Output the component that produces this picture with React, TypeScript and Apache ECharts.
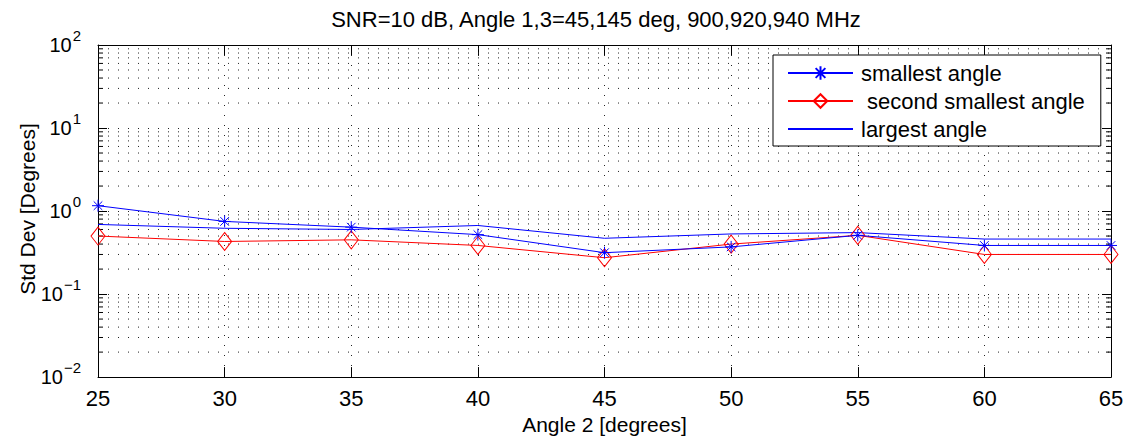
import { useEffect, useRef } from 'react';
import * as echarts from 'echarts';

const angle2 = [25, 30, 35, 40, 45, 50, 55, 60, 65];
const smallest = [1.16, 0.75, 0.64, 0.52, 0.315, 0.37, 0.51, 0.385, 0.385];
const secondSmallest = [0.5, 0.43, 0.45, 0.385, 0.274, 0.4, 0.51, 0.3, 0.3];
const largest = [0.69, 0.62, 0.6, 0.67, 0.47, 0.53, 0.55, 0.46, 0.46];

const seriesNames = ['smallest angle', ' second smallest angle', 'largest angle'];
const titleText = 'SNR=10 dB, Angle 1,3=45,145 deg, 900,920,940 MHz';
const xName = 'Angle 2 [degrees]';
const yName = 'Std Dev [Degrees]';
const decades = [0.01, 0.1, 1, 10];
const minorSteps = [2, 3, 4, 5, 6, 7, 8, 9];

const FONT = '"Liberation Sans", Arial, Helvetica, sans-serif';
const STAR = 'path://M0,-6L0,6M-6,0L6,0M-4.3,-4.3L4.3,4.3M-4.3,4.3L4.3,-4.3';

export default function App() {
  const ref = useRef<HTMLDivElement>(null);
  useEffect(() => {
    if (!ref.current) return;
    const chart = echarts.init(ref.current, null, { renderer: 'svg' });
    const minorVals: number[] = [];
    decades.forEach((d) => minorSteps.forEach((m) => minorVals.push(+(d * m).toPrecision(3))));

    const zip = (ys: number[]) => angle2.map((x, i) => [x, ys[i]]);
    const sup = (v: number) => {
      const e = Math.round(Math.log10(v));
      return `{b|10}{s|${e < 0 ? '\u2212' + -e : e}}`;
    };

    chart.setOption({
      animation: false,
      backgroundColor: '#ffffff',
      textStyle: { fontFamily: FONT },
      graphic: [
        {
          type: 'text',
          x: 596,
          y: 19,
          style: {
            text: titleText,
            font: `22px ${FONT}`,
            fill: '#000',
            textAlign: 'center',
            textVerticalAlign: 'middle',
          },
        },
        {
          type: 'text',
          x: 27,
          y: 209,
          rotation: Math.PI / 2,
          style: {
            text: yName,
            font: `21px ${FONT}`,
            fill: '#000',
            textAlign: 'center',
            textVerticalAlign: 'middle',
          },
        },
      ],
      grid: { left: 98, right: 16, top: 45, bottom: 62, containLabel: false },
      legend: {
        data: seriesNames,
        orient: 'vertical',
        left: 773,
        top: 55,
        padding: [7, 16, 6, 14],
        itemWidth: 65,
        itemHeight: 17,
        itemGap: 6,
        backgroundColor: '#ffffff',
        borderColor: '#000',
        borderWidth: 1,
        borderRadius: 0,
        textStyle: { fontSize: 22, color: '#000', fontFamily: FONT, padding: [0, 0, 0, 3] },
      },
      xAxis: [
        {
          type: 'value',
          min: 25,
          max: 65,
          interval: 5,
          name: xName,
          nameLocation: 'middle',
          nameGap: 34,
          nameTextStyle: { fontSize: 21, color: '#000', fontFamily: FONT },
          axisLine: { show: true, lineStyle: { color: '#000', width: 1 } },
          axisTick: { show: true, inside: true, length: 10, lineStyle: { color: '#000' } },
          axisLabel: { fontSize: 22, color: '#000', margin: 10, fontFamily: FONT },
          splitLine: { show: true, lineStyle: { color: '#222', width: 1, type: [1, 9] } },
        },
        {
          type: 'value',
          position: 'top',
          min: 25,
          max: 65,
          interval: 5,
          axisLine: { show: true, lineStyle: { color: '#000', width: 1 } },
          axisTick: { show: true, inside: true, length: 10, lineStyle: { color: '#000' } },
          axisLabel: { show: false },
          splitLine: { show: false },
        },
      ],
      yAxis: [
        {
          type: 'log',
          logBase: 10,
          min: 0.01,
          max: 100,
          splitNumber: 4,
          axisLine: { show: true, lineStyle: { color: '#000', width: 1 } },
          axisTick: { show: true, inside: true, length: 9, lineStyle: { color: '#000' } },
          axisLabel: {
            margin: 17,
            formatter: sup,
            rich: {
              b: { fontSize: 20, color: '#000', fontFamily: FONT },
              s: { fontSize: 15, color: '#000', fontFamily: FONT, padding: [0, 0, 20, 1] },
            },
          },
          splitLine: { show: true, lineStyle: { color: '#222', width: 1, type: [1, 9] } },
        },
        {
          type: 'log',
          logBase: 10,
          min: 0.01,
          max: 100,
          splitNumber: 4,
          position: 'right',
          axisLine: { show: true, lineStyle: { color: '#000', width: 1 } },
          axisTick: { show: true, inside: true, length: 9, lineStyle: { color: '#000' } },
          axisLabel: { show: false },
          splitLine: { show: false },
        },
      ],
      series: [
        {
          name: 'minor grid',
          type: 'custom',
          silent: true,
          z: 1,
          xAxisIndex: 0,
          yAxisIndex: 0,
          data: minorVals.map((v) => [25, v]),
          renderItem: (params: any, api: any) => {
            const cs = params.coordSys;
            const y = api.coord([25, api.value(1)])[1];
            const x0 = cs.x;
            const x1 = cs.x + cs.width;
            return {
              type: 'group',
              children: [
                {
                  type: 'line',
                  shape: { x1: x0, y1: y, x2: x1, y2: y },
                  style: { stroke: '#222', lineWidth: 1, lineDash: [1, 9] },
                },
                {
                  type: 'line',
                  shape: { x1: x0, y1: y, x2: x0 + 5, y2: y },
                  style: { stroke: '#000', lineWidth: 1 },
                },
                {
                  type: 'line',
                  shape: { x1: x1 - 5, y1: y, x2: x1, y2: y },
                  style: { stroke: '#000', lineWidth: 1 },
                },
              ],
            };
          },
        },
        {
          name: seriesNames[0],
          type: 'line',
          z: 4,
          data: zip(smallest),
          symbol: STAR,
          symbolSize: 12,
          lineStyle: { color: '#0000ff', width: 1 },
          itemStyle: { color: 'rgba(0,0,0,0)', borderColor: '#0000ff', borderWidth: 1 },
        },
        {
          name: seriesNames[1],
          type: 'line',
          z: 3,
          data: zip(secondSmallest),
          symbol: 'diamond',
          symbolSize: [14, 18],
          lineStyle: { color: '#ff0000', width: 1 },
          itemStyle: { color: 'rgba(0,0,0,0)', borderColor: '#ff0000', borderWidth: 1 },
        },
        {
          name: seriesNames[2],
          type: 'line',
          z: 3,
          data: zip(largest),
          symbol: 'none',
          lineStyle: { color: '#0000ff', width: 1 },
          itemStyle: { color: 'rgba(0,0,0,0)', borderColor: 'rgba(0,0,0,0)', borderWidth: 0 },
        },
      ],
    });
    return () => chart.dispose();
  }, []);
  return (
    <div
      ref={ref}
      style={{ position: 'fixed', left: 0, top: 0, width: 1127, height: 440, background: '#fff' }}
    />
  );
}
